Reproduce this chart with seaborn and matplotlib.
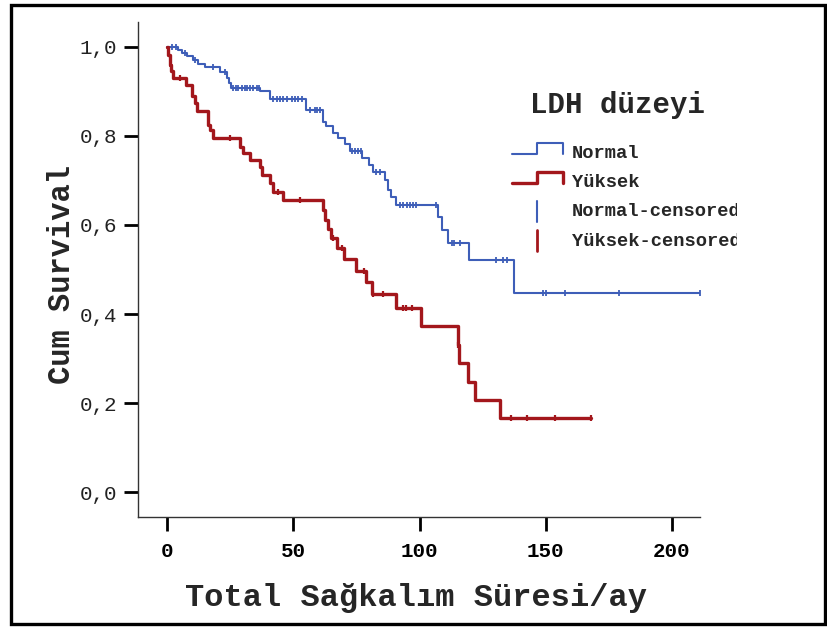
import numpy as np
import pandas as pd
import matplotlib
matplotlib.use("Agg")
import matplotlib.pyplot as plt
from matplotlib.lines import Line2D
from matplotlib.patches import Rectangle
from matplotlib.transforms import Bbox
import seaborn as sns

# ---------------- data ----------------
normal_times = [0, 4.4, 6.0, 7.9, 10.3, 12.3, 15.1, 21.0, 23.8, 24.6, 25.3, 36.9, 40.9,
                55.2, 61.9, 63.1, 65.9, 67.9, 70.6, 72.6, 77.4, 79.8, 81.7, 86.5, 87.7,
                88.9, 90.5, 107.5, 109.1, 111.1, 119.8, 137.3, 211.1]
normal_surv = [1.0, 0.993, 0.986, 0.980, 0.971, 0.962, 0.955, 0.943, 0.930, 0.919, 0.907,
               0.900, 0.884, 0.858, 0.832, 0.822, 0.807, 0.795, 0.782, 0.766, 0.750,
               0.735, 0.720, 0.701, 0.679, 0.662, 0.645, 0.618, 0.588, 0.559, 0.521,
               0.447, 0.447]
normal_censored = [2.0, 3.6, 7.1, 11.1, 18.2, 23.0, 26.1, 27.3, 28.1, 29.7, 30.9, 31.7,
                   32.9, 34.1, 35.6, 36.4, 42.0, 43.6, 44.8, 45.9, 47.5, 49.5, 50.7, 51.9,
                   53.5, 56.6, 58.6, 59.4, 60.6, 73.3, 74.5, 75.6, 76.8, 82.8, 84.4, 92.3,
                   93.5, 95.0, 96.2, 97.4, 98.6, 106.5, 112.9, 113.7, 116.0, 130.3, 133.1,
                   134.7, 148.9, 150.1, 157.6, 179.0, 211.1]

yuksek_times = [0, 0.4, 1.0, 1.6, 2.2, 7.5, 9.9, 11.1, 11.9, 16.2, 17.0, 18.2, 28.9, 30.1,
                32.9, 36.8, 37.6, 40.8, 42.0, 45.9, 61.8, 62.6, 63.8, 65.0, 67.3, 70.1,
                74.9, 78.8, 81.2, 90.7, 100.6, 115.2, 115.5, 119.2, 122.0, 131.9, 167.9]
yuksek_surv = [1.0, 0.982, 0.960, 0.945, 0.930, 0.915, 0.890, 0.873, 0.855, 0.825, 0.813,
               0.795, 0.776, 0.761, 0.747, 0.731, 0.712, 0.694, 0.675, 0.656, 0.634,
               0.611, 0.590, 0.570, 0.548, 0.523, 0.497, 0.473, 0.445, 0.413, 0.372,
               0.331, 0.290, 0.248, 0.207, 0.166, 0.166]
yuksek_censored = [5.1, 25.0, 44.0, 52.7, 65.7, 69.3, 78.0, 81.6, 85.5, 93.5, 94.7, 97.0,
                   115.35, 136.2, 142.6, 153.7, 167.9]

y_ticks = [0.0, 0.2, 0.4, 0.6, 0.8, 1.0]
y_tick_labels = ["0,0", "0,2", "0,4", "0,6", "0,8", "1,0"]
x_ticks = [0, 50, 100, 150, 200]
x_tick_labels = ["0", "50", "100", "150", "200"]

group_names = ["Normal", "Yüksek"]
legend_title = "LDH düzeyi"
x_title = "Total Sağkalım Süresi/ay"
y_title = "Cum Survival"

BLUE = "#3E5EB8"
RED = "#A3171C"

# ---------------- helpers ----------------
def surv_at(times, surv, t):
    idx = np.searchsorted(np.asarray(times), t, side="right") - 1
    return np.asarray(surv)[idx]

curves = pd.concat([
    pd.DataFrame({"time": normal_times, "surv": normal_surv, "group": group_names[0]}),
    pd.DataFrame({"time": yuksek_times, "surv": yuksek_surv, "group": group_names[1]}),
], ignore_index=True)

cens = pd.concat([
    pd.DataFrame({"time": normal_censored,
                  "surv": [surv_at(normal_times, normal_surv, t) for t in normal_censored],
                  "group": group_names[0]}),
    pd.DataFrame({"time": yuksek_censored,
                  "surv": [surv_at(yuksek_times, yuksek_surv, t) for t in yuksek_censored],
                  "group": group_names[1]}),
], ignore_index=True)

# ---------------- figure ----------------
sns.set_style("white")
plt.rcParams["font.family"] = ["Liberation Mono", "DejaVu Sans Mono"]

W, H = 828, 628
fig = plt.figure(figsize=(W / 100, H / 100), dpi=100)
ax = fig.add_axes([138 / W, 1 - 517 / H, 562 / W, 495 / H])

palette = {group_names[0]: BLUE, group_names[1]: RED}
for g, lw in [(group_names[0], 1.5), (group_names[1], 2.4)]:
    sub = curves[curves.group == g]
    sns.lineplot(data=sub, x="time", y="surv", ax=ax, color=palette[g], lw=lw,
                 drawstyle="steps-post", estimator=None, sort=False, legend=False)
    csub = cens[cens.group == g]
    sns.scatterplot(data=csub, x="time", y="surv", ax=ax, color=palette[g], marker="|",
                    s=20, linewidth=1.3 if g == group_names[0] else 1.6, legend=False, zorder=3)

ax.set_xlim(-11.5, 211.1)
ax.set_ylim(-0.056, 1.056)

for s in ["top", "right"]:
    ax.spines[s].set_visible(False)
for s in ["left", "bottom"]:
    ax.spines[s].set_color("#333333")
    ax.spines[s].set_linewidth(1.0)

ax.set_yticks(y_ticks)
ax.set_yticklabels(y_tick_labels, fontsize=15)
ax.set_xticks(x_ticks)
ax.set_xticklabels(x_tick_labels, fontsize=15, fontweight="bold")
ax.tick_params(axis="y", direction="out", length=10, width=2.0, color="black", pad=5,
               left=True, labelcolor="#222222")
ax.tick_params(axis="x", direction="out", length=10, width=2.0, color="black", pad=8,
               bottom=True, labelcolor="black")

ax.set_xlabel(x_title, fontsize=23, fontweight="bold")
ax.xaxis.label.set_va("center")
ax.xaxis.set_label_coords(0.495, -0.164)
ax.set_ylabel(y_title, fontsize=22, fontweight="bold")
ax.yaxis.label.set_va("center")
ax.yaxis.set_label_coords(-0.135, 0.49)

# ---------------- legend (SPSS style) ----------------
def fx(px):
    return px / W

def fy(py):
    return 1 - py / H

fig.text(fx(618), fy(105), legend_title, fontsize=21, fontweight="bold",
         ha="center", va="center")

for i, (g, lw) in enumerate([(group_names[0], 1.5), (group_names[1], 2.4)]):
    base = 154 + 29 * i
    top = base - 11
    fig.add_artist(Line2D([fx(512), fx(537), fx(537), fx(563), fx(563)],
                          [fy(base), fy(base), fy(top), fy(top), fy(base)],
                          color=palette[g], lw=lw))
    fig.text(fx(572), fy(base - 1), g, fontsize=13.5, fontweight="bold",
             ha="left", va="center")

clip = Bbox([[0, 0], [737, H]])
for i, g in enumerate(group_names):
    yc = 212 + 29 * i
    fig.add_artist(Line2D([fx(537), fx(537)], [fy(yc - 11), fy(yc + 10)],
                          color=palette[g], lw=1.5 if i == 0 else 2.0))
    t = fig.text(fx(572), fy(yc), f"{g}-censored", fontsize=13.5, fontweight="bold",
                 ha="left", va="center")
    t.set_clip_box(clip)
    t.set_clip_on(True)

# outer frame
fig.add_artist(Rectangle((fx(10.5), fy(624)), fx(825) - fx(10.5), fy(4.5) - fy(624),
                         transform=fig.transFigure, fill=False, edgecolor="black", lw=2.4))

fig.savefig("out.png", dpi=100)
